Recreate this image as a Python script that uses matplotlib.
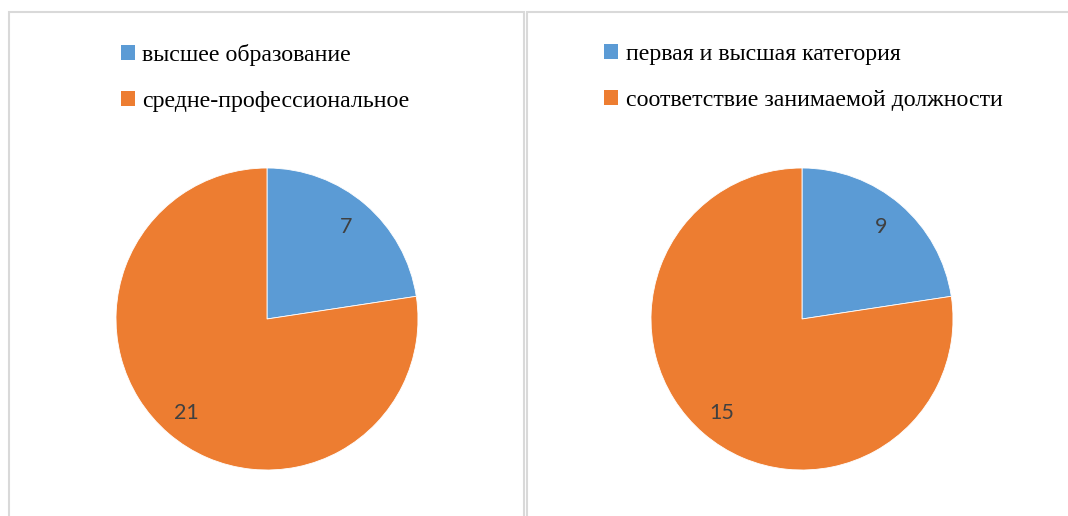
import matplotlib.pyplot as plt
from matplotlib.patches import Patch, Rectangle
from matplotlib.font_manager import FontProperties
import numpy as np

# data
left_names = ['высшее образование', 'средне-профессиональное']
left_values = ['7', '21']
left_shares = [22.6, 77.4]      # wedge sizes as drawn in the picture

right_names = ['первая и высшая категория', 'соответствие занимаемой должности']
right_values = ['9', '15']
right_shares = [22.6, 77.4]

colors = ['#5B9BD5', '#ED7D31']

W, H = 1068, 516
fig = plt.figure(figsize=(W / 100, H / 100), dpi=100)

# panel frames
for x0, x1 in [(9, 524), (527, 1075)]:
    fig.patches.append(Rectangle((x0 / W, -0.1), (x1 - x0) / W, (H - 12) / H + 0.1,
                                 transform=fig.transFigure, fill=False,
                                 edgecolor='#d9d9d9', linewidth=1.5))

serif = FontProperties(family=['Liberation Serif', 'DejaVu Serif'], size=17.2)


def draw_pie(cx, cy, r, shares, values, names, leg_x):
    ax = fig.add_axes([(cx - r) / W, (H - cy - r) / H, 2 * r / W, 2 * r / H])
    wedges, _ = ax.pie(shares, colors=colors, startangle=90, counterclock=False,
                       wedgeprops=dict(edgecolor='white', linewidth=0.6))
    ax.set_xlim(-1, 1)
    ax.set_ylim(-1, 1)
    ax.axis('off')
    for w, v, d in zip(wedges, values, [0.8, 0.82]):
        ang = np.deg2rad((w.theta1 + w.theta2) / 2)
        ax.text(d * np.cos(ang), d * np.sin(ang), v, ha='center', va='center',
                fontsize=15.5, color='#404040', family='Lato')
    handles = [Patch(facecolor=c) for c in colors]
    fig.legend(handles, names, loc='upper left',
               bbox_to_anchor=(leg_x / W, 1 - 44 / H), frameon=False,
               prop=serif, handlelength=0.6, handleheight=0.6, handletextpad=0.3,
               labelspacing=1.03, borderpad=0, borderaxespad=0)


draw_pie(267, 319, 151, left_shares, left_values, left_names, 121)
draw_pie(802, 319, 151, right_shares, right_values, right_names, 604)

fig.savefig('out.png', dpi=100)
